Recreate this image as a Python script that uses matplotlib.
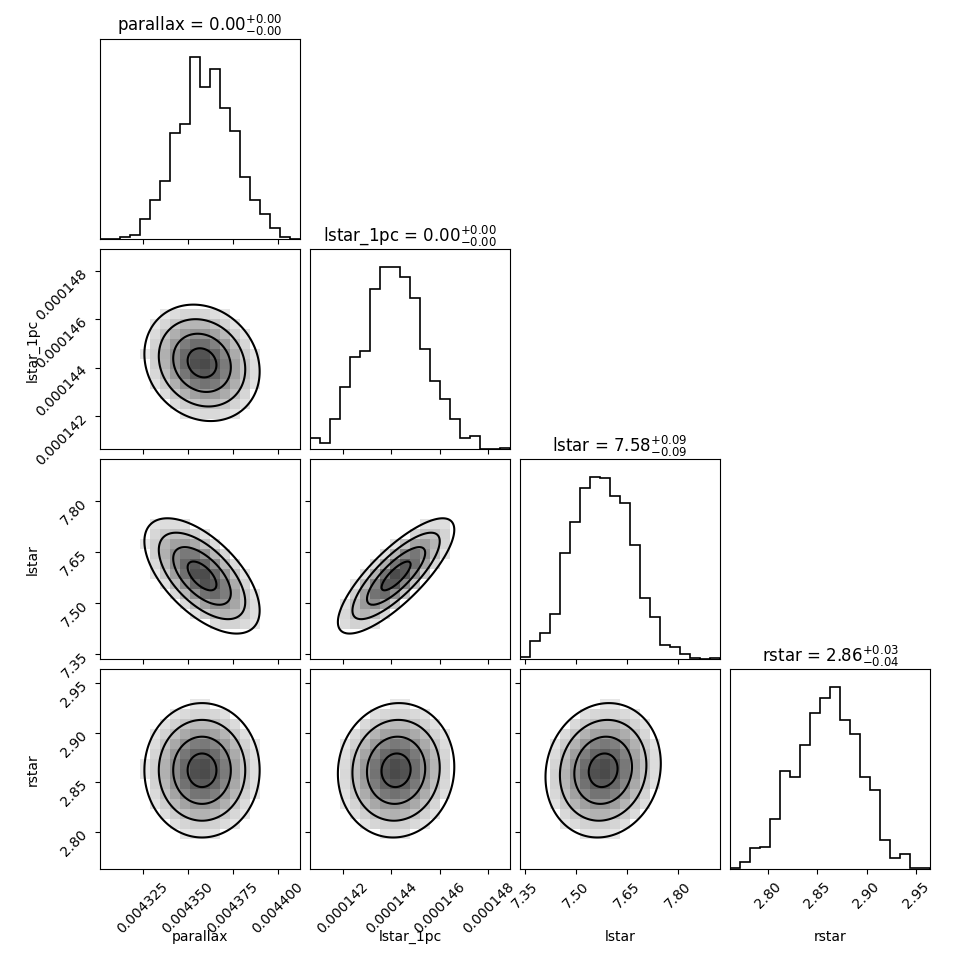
import matplotlib.pyplot as plt

import numpy as np

names = ["parallax", "lstar_1pc", "lstar", "rstar"]
titles = [r"parallax = $0.00_{-0.00}^{+0.00}$",
          r"lstar_1pc = $0.00_{-0.00}^{+0.00}$",
          r"lstar = $7.58_{-0.09}^{+0.09}$",
          r"rstar = $2.86_{-0.04}^{+0.03}$"]

ranges = [(0.0043013, 0.0044124), (0.00014065, 0.0001489), (7.335, 7.925), (2.762, 2.9645)]
ticks = [[0.004325, 0.004350, 0.004375, 0.004400],
         [0.000142, 0.000144, 0.000146, 0.000148],
         [7.35, 7.50, 7.65, 7.80],
         [2.80, 2.85, 2.90, 2.95]]
ticklabels = [["0.004325", "0.004350", "0.004375", "0.004400"],
              ["0.000142", "0.000144", "0.000146", "0.000148"],
              ["7.35", "7.50", "7.65", "7.80"],
              ["2.80", "2.85", "2.90", "2.95"]]

# 1d histogram counts, 20 bins over each range
hist_parallax = [1, 1, 5, 12, 58, 115, 173, 313, 340, 540, 452, 505, 387, 320, 183, 115, 75, 32, 5, 1]
hist_lstar_1pc = [32, 17, 88, 183, 272, 292, 475, 540, 540, 510, 448, 297, 202, 147, 88, 32, 37, 0, 0, 4]
hist_lstar = [5, 52, 78, 135, 315, 408, 508, 540, 536, 485, 462, 338, 182, 125, 42, 37, 15, 2, 0, 4]
hist_rstar = [4, 22, 64, 67, 148, 290, 273, 368, 462, 508, 540, 442, 402, 273, 235, 87, 32, 45, 4, 4]
hists = [hist_parallax, hist_lstar_1pc, hist_lstar, hist_rstar]

# posterior summary used for the 2d panels
means = [0.004358, 0.0001442, 7.58, 2.862]
sigmas = [0.000016, 0.0000012, 0.085, 0.034]
corr = [[1.0, -0.15, -0.6, 0.0],
        [-0.15, 1.0, 0.8, 0.05],
        [-0.6, 0.8, 1.0, 0.1],
        [0.0, 0.05, 0.1, 1.0]]

ndim = len(names)
fig, axes = plt.subplots(ndim, ndim, figsize=(9.7, 9.7))
fig.subplots_adjust(left=0.103, right=0.959, bottom=0.103, top=0.959, wspace=0.05, hspace=0.05)

for i in range(ndim):
    for j in range(ndim):
        ax = axes[i, j]
        if j > i:
            ax.set_axis_off()
            continue
        ax.set_xlim(ranges[j])
        ax.set_xticks(ticks[j])
        if i == j:
            edges = np.linspace(ranges[i][0], ranges[i][1], 21)
            ax.stairs(hists[i], edges, color="k", lw=1.2)
            ax.set_ylim(0, 1.1 * max(hists[i]))
            ax.set_yticks([])
            ax.set_title(titles[i], fontsize=12)
        else:
            ax.set_ylim(ranges[i])
            ax.set_yticks(ticks[i])
            # coarse grid like a 2d histogram
            xe = np.linspace(ranges[j][0], ranges[j][1], 21)
            ye = np.linspace(ranges[i][0], ranges[i][1], 21)
            xc = 0.5 * (xe[1:] + xe[:-1])
            yc = 0.5 * (ye[1:] + ye[:-1])
            X, Y = np.meshgrid(xc, yc)
            u = (X - means[j]) / sigmas[j]
            v = (Y - means[i]) / sigmas[i]
            r = corr[i][j]
            m2 = (u**2 - 2 * r * u * v + v**2) / (1 - r**2)
            dens = np.exp(-0.5 * m2)
            dens = np.ma.masked_where(m2 > 4.0, dens)
            ax.pcolormesh(xe, ye, dens, cmap="gray_r", vmin=0, vmax=1.4)
            # fine grid for contours
            xf = np.linspace(ranges[j][0], ranges[j][1], 200)
            yf = np.linspace(ranges[i][0], ranges[i][1], 200)
            XF, YF = np.meshgrid(xf, yf)
            u = (XF - means[j]) / sigmas[j]
            v = (YF - means[i]) / sigmas[i]
            m2f = (u**2 - 2 * r * u * v + v**2) / (1 - r**2)
            ax.contour(XF, YF, np.sqrt(m2f), levels=[0.5, 1.0, 1.5, 2.0], colors="k", linewidths=1.5)
        if i == ndim - 1:
            ax.set_xticklabels(ticklabels[j], rotation=45)
            ax.set_xlabel(names[j], fontsize=10)
            ax.xaxis.set_label_coords(0.5, -0.3)
        else:
            ax.set_xticklabels([])
        if j == 0 and i > 0:
            ax.set_yticklabels(ticklabels[i], rotation=45)
            ax.set_ylabel(names[i], fontsize=10)
            ax.yaxis.set_label_coords(-0.3, 0.5)
        elif i != j:
            ax.set_yticklabels([])

plt.savefig("out.png", dpi=100)
